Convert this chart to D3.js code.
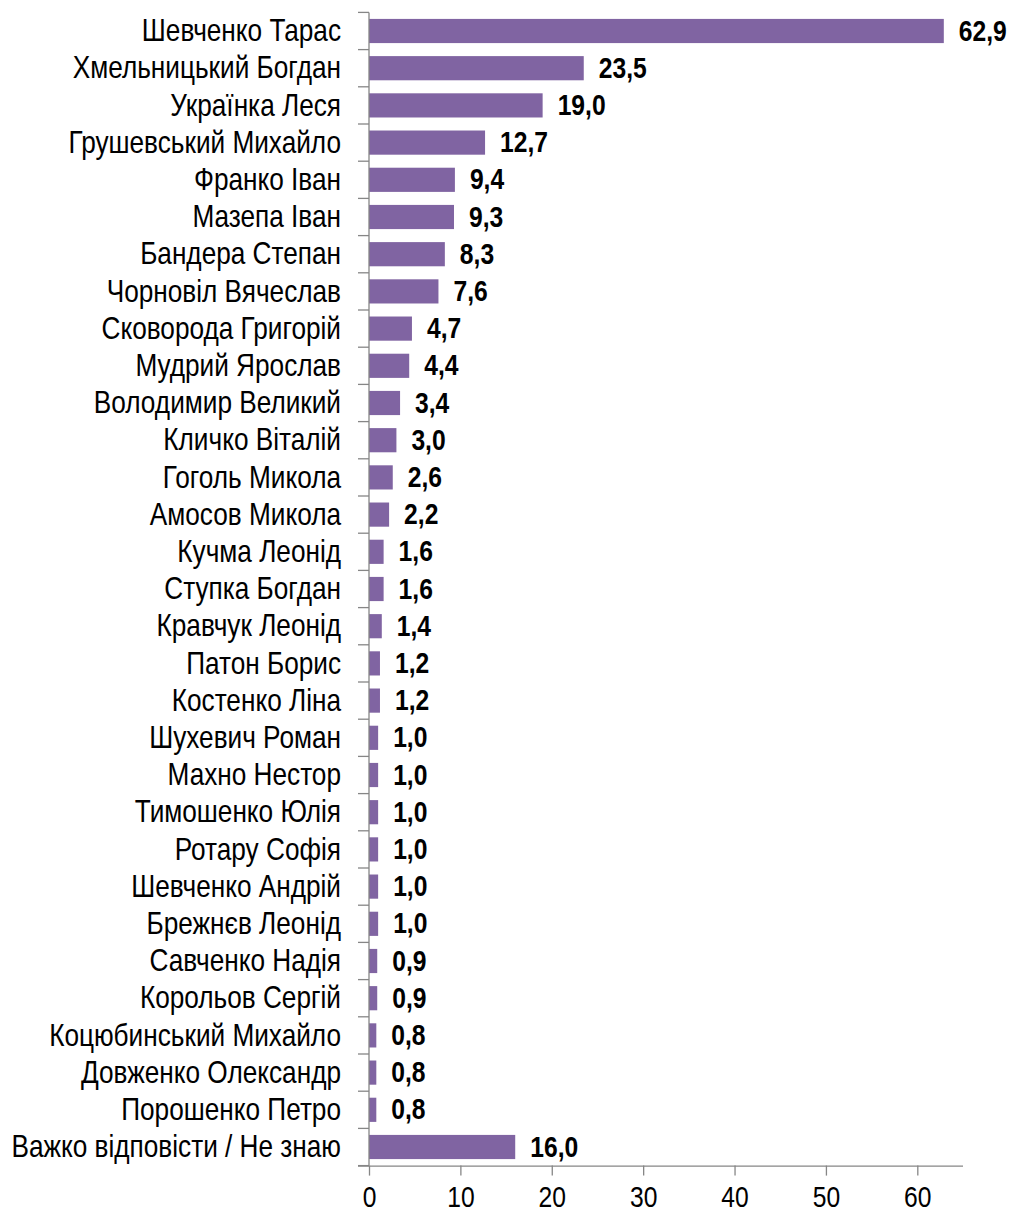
<!DOCTYPE html>
<html>
<head>
<meta charset="utf-8">
<script src="https://cdn.jsdelivr.net/npm/d3@7"></script>
<style>
  body { margin: 0; background: #fff; }
  text { font-family: "Liberation Sans", Arial, sans-serif; }
</style>
</head>
<body>
<svg id="chart" width="1012" height="1213"></svg>
<script>
const names = [
  'Шевченко Тарас', 'Хмельницький Богдан', 'Українка Леся', 'Грушевський Михайло',
  'Франко Іван', 'Мазепа Іван', 'Бандера Степан', 'Чорновіл Вячеслав',
  'Сковорода Григорій', 'Мудрий Ярослав', 'Володимир Великий', 'Кличко Віталій',
  'Гоголь Микола', 'Амосов Микола', 'Кучма Леонід', 'Ступка Богдан',
  'Кравчук Леонід', 'Патон Борис', 'Костенко Ліна', 'Шухевич Роман',
  'Махно Нестор', 'Тимошенко Юлія', 'Ротару Софія', 'Шевченко Андрій',
  'Брежнєв Леонід', 'Савченко Надія', 'Корольов Сергій', 'Коцюбинський Михайло',
  'Довженко Олександр', 'Порошенко Петро', 'Важко відповісти / Не знаю'
];
const values = [
  62.9, 23.5, 19.0, 12.7, 9.4, 9.3, 8.3, 7.6, 4.7, 4.4, 3.4, 3.0, 2.6, 2.2, 1.6, 1.6,
  1.4, 1.2, 1.2, 1.0, 1.0, 1.0, 1.0, 1.0, 1.0, 0.9, 0.9, 0.8, 0.8, 0.8, 16.0
];
const xTicks = [0, 10, 20, 30, 40, 50, 60];

const data = names.map((n, i) => ({ name: n, value: values[i] }));
const svg = d3.select('#chart');
const axisColor = '#868686';
const narrow = 0.845; // fake Arial Narrow

const x = d3.scaleLinear().domain([0, 65]).range([369, 963]);
const y = d3.scaleBand().domain(names).range([12.4, 1165.6]).paddingInner(0.35).paddingOuter(0.175);

// bars
svg.append('g')
  .selectAll('rect')
  .data(data)
  .enter()
  .append('rect')
  .attr('x', x(0))
  .attr('y', (d) => y(d.name))
  .attr('width', (d) => x(d.value) - x(0))
  .attr('height', y.bandwidth())
  .attr('fill', '#8064A2');

// value labels
svg.append('g')
  .selectAll('text')
  .data(data)
  .enter()
  .append('text')
  .attr('transform', (d) => `translate(${x(d.value) + 15},${y(d.name) + y.bandwidth() / 2}) scale(0.85,1)`)
  .attr('dy', '0.33em')
  .attr('font-size', 29)
  .attr('font-weight', 'bold')
  .attr('fill', '#000')
  .text((d) => d.value.toFixed(1).replace('.', ','));

// y axis: line + ticks between categories
const yAxis = svg.append('g');
yAxis.append('line')
  .attr('x1', x(0)).attr('x2', x(0))
  .attr('y1', 12.4).attr('y2', 1165.6)
  .attr('stroke', axisColor).attr('stroke-width', 1.3);
const step = y.step();
yAxis.selectAll('line.tick')
  .data(d3.range(names.length + 1))
  .enter()
  .append('line')
  .attr('class', 'tick')
  .attr('x1', x(0) - 11).attr('x2', x(0))
  .attr('y1', (i) => 12.4 + i * step)
  .attr('y2', (i) => 12.4 + i * step)
  .attr('stroke', axisColor).attr('stroke-width', 1.3);
yAxis.selectAll('text')
  .data(names)
  .enter()
  .append('text')
  .attr('transform', (d) => `translate(341,${y(d) + y.bandwidth() / 2}) scale(${narrow},1)`)
  .attr('dy', '0.33em')
  .attr('text-anchor', 'end')
  .attr('font-size', 31)
  .attr('fill', '#000')
  .text((d) => d);

// x axis
const xAxis = svg.append('g').attr('transform', 'translate(0,1165.6)');
xAxis.call(d3.axisBottom(x).tickValues(xTicks).tickSize(10).tickSizeOuter(0).tickFormat(d3.format('d')));
xAxis.select('.domain').attr('stroke', axisColor).attr('stroke-width', 1.3)
  .attr('d', `M${x(0) - 11},0.5H${x(65)}`);
xAxis.selectAll('.tick line').attr('stroke', axisColor).attr('stroke-width', 1.3);
xAxis.selectAll('.tick text')
  .attr('font-size', 29)
  .attr('fill', '#000')
  .attr('y', 0)
  .attr('dy', 0)
  .attr('transform', 'translate(0,41.5) scale(0.85,1)')
  .style('font-family', '"Liberation Sans", Arial, sans-serif');
</script>
</body>
</html>
